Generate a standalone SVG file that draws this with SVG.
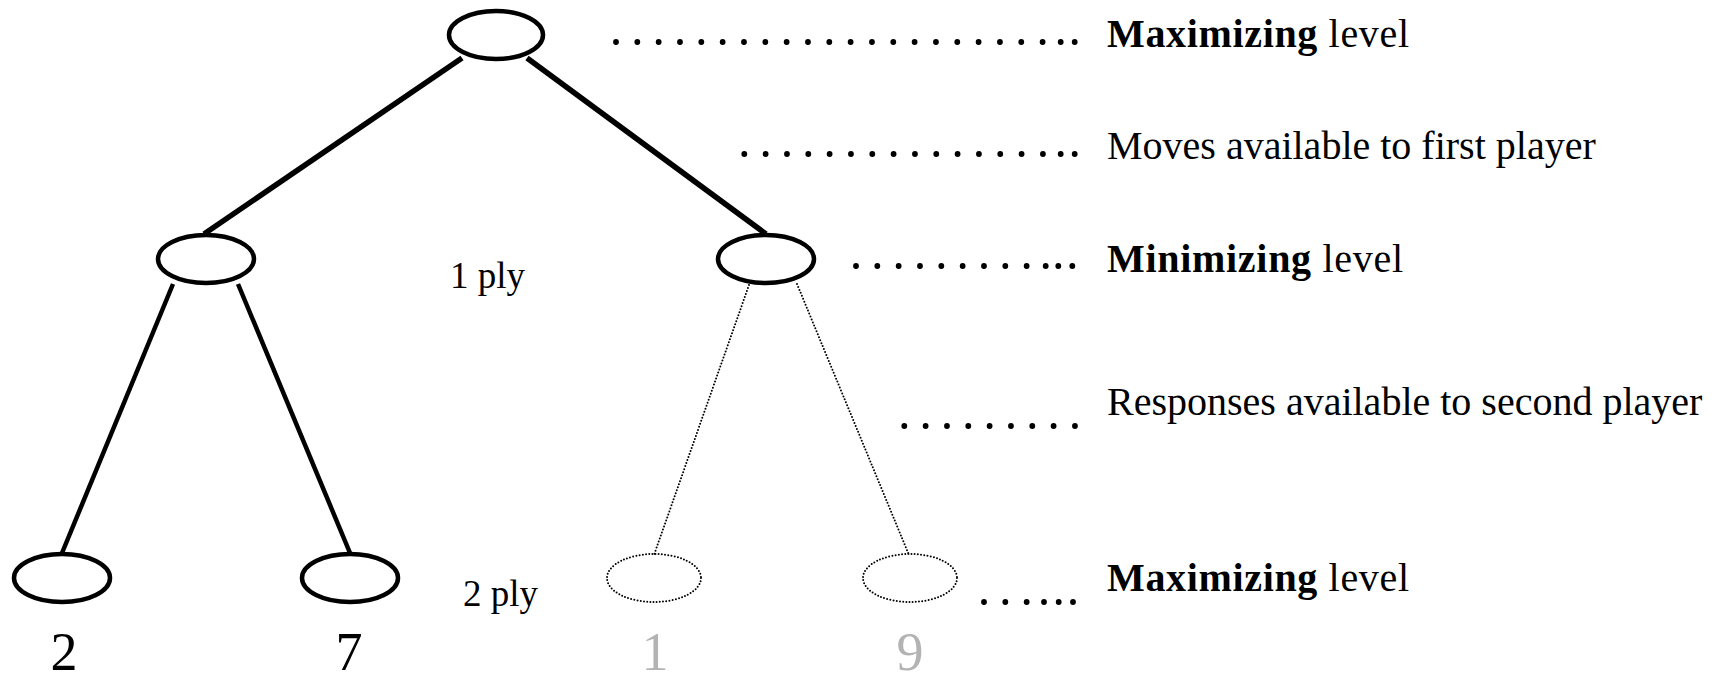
<svg xmlns="http://www.w3.org/2000/svg" width="1731" height="682" viewBox="0 0 1731 682">
  <style>
    .node { fill: none; stroke: #000; stroke-width: 4.5; }
    .pruned { fill: none; stroke: #000; stroke-width: 2; stroke-dasharray: 0 3.2; stroke-linecap: round; }
    .edge { stroke: #000; stroke-width: 4.5; fill: none; }
    .edge-top { stroke: #000; stroke-width: 5.5; fill: none; }
    .edge-pruned { stroke: #000; stroke-width: 2; stroke-dasharray: 0 3.2; stroke-linecap: round; fill: none; }
    .lead { stroke: #000; stroke-width: 5.8; stroke-linecap: round; stroke-dasharray: 0 21.33; fill: none; }
    .dot { fill: #000; }
    text { font-family: "Liberation Serif", "Times New Roman", serif; fill: #000; }
    .label { font-size: 40px; }
    .ply { font-size: 37px; }
    .value { font-size: 54px; text-anchor: middle; }
    .grey { fill: #b3b3b3; }
  </style>

  <!-- tree edges -->
  <g id="connectors">
    <line class="edge-top" x1="462" y1="58" x2="204" y2="234"/>
    <line class="edge-top" x1="527" y1="58" x2="766" y2="234"/>
    <line class="edge" x1="173" y1="284" x2="62" y2="553"/>
    <line class="edge" x1="238" y1="284" x2="350" y2="553"/>
    <line class="edge-pruned" x1="749" y1="285" x2="654" y2="555"/>
    <line class="edge-pruned" x1="797" y1="284" x2="909" y2="555"/>
  </g>

  <!-- root: maximizing -->
  <g id="root">
    <ellipse class="node" cx="496" cy="35" rx="47" ry="24"/>
  </g>

  <!-- first ply: minimizing -->
  <g id="min-left">
    <ellipse class="node" cx="206" cy="259" rx="48" ry="24"/>
  </g>
  <g id="min-right">
    <ellipse class="node" cx="766" cy="259" rx="48" ry="24"/>
  </g>

  <!-- second ply: leaves -->
  <g id="leaf-2">
    <ellipse class="node" cx="62" cy="578" rx="48" ry="24"/>
    <text class="value" x="64" y="670">2</text>
  </g>
  <g id="leaf-7">
    <ellipse class="node" cx="350" cy="578" rx="48" ry="24"/>
    <text class="value" x="349" y="670">7</text>
  </g>
  <g id="leaf-1">
    <ellipse class="pruned" cx="654" cy="578" rx="47" ry="24"/>
    <text class="value grey" x="655" y="670">1</text>
  </g>
  <g id="leaf-9">
    <ellipse class="pruned" cx="910" cy="578" rx="47" ry="24"/>
    <text class="value grey" x="910" y="670">9</text>
  </g>

  <!-- ply labels -->
  <g id="ply-labels">
    <text class="ply" x="450" y="288">1 ply</text>
    <text class="ply" x="463" y="606">2 ply</text>
  </g>

  <!-- leader dots -->
  <g id="leaders">
    <line class="lead" x1="616" y1="42" x2="1043.2" y2="42"/>
    <circle class="dot" cx="1060.7" cy="42" r="2.9"/>
    <circle class="dot" cx="1074.7" cy="42" r="2.9"/>

    <line class="lead" x1="744.3" y1="154" x2="1043.2" y2="154"/>
    <circle class="dot" cx="1060.7" cy="154" r="2.9"/>
    <circle class="dot" cx="1074.7" cy="154" r="2.9"/>

    <line class="lead" x1="856" y1="266" x2="1027" y2="266"/>
    <circle class="dot" cx="1045.7" cy="266" r="2.9"/>
    <circle class="dot" cx="1058.3" cy="266" r="2.9"/>
    <circle class="dot" cx="1072.3" cy="266" r="2.9"/>

    <line class="lead" x1="904.3" y1="426" x2="1075.2" y2="426"/>

    <line class="lead" x1="984" y1="602" x2="1027" y2="602"/>
    <circle class="dot" cx="1044" cy="602" r="2.9"/>
    <circle class="dot" cx="1058.7" cy="602" r="2.9"/>
    <circle class="dot" cx="1073" cy="602" r="2.9"/>
  </g>

  <!-- level captions -->
  <g id="captions">
    <text class="label" x="1107" y="47" textLength="302" lengthAdjust="spacing"><tspan font-weight="bold">Maximizing</tspan> level</text>
    <text class="label" x="1107" y="159">Moves available to first player</text>
    <text class="label" x="1107" y="272" textLength="296" lengthAdjust="spacing"><tspan font-weight="bold">Minimizing</tspan> level</text>
    <text class="label" x="1107" y="415">Responses available to second player</text>
    <text class="label" x="1107" y="591" textLength="302" lengthAdjust="spacing"><tspan font-weight="bold">Maximizing</tspan> level</text>
  </g>
</svg>
